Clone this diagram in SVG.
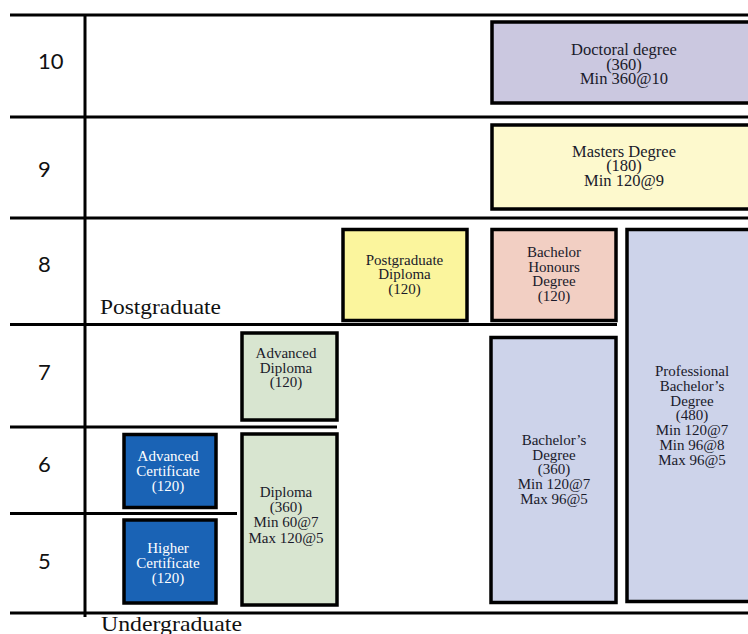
<svg xmlns="http://www.w3.org/2000/svg" width="748" height="634" viewBox="0 0 748 634">
<style>
.grid line{stroke:#000;stroke-width:3}
.box{stroke:#000;stroke-width:3.5}
.t{font-family:"Liberation Serif","Times New Roman",serif;font-size:15px;fill:#1a1a2a;text-anchor:middle}
.big{font-size:16.5px}
.w{fill:#fff}
.lvl{font-family:Lato,"Liberation Sans",sans-serif;font-size:22px;fill:#111}
.lab{font-family:"Liberation Serif","Times New Roman",serif;font-size:21px;fill:#111}
</style>
<rect width="748" height="634" fill="#fff"/>
<g id="grid" class="grid">
<line x1="10" y1="15" x2="748" y2="15"/>
<line x1="10" y1="117" x2="748" y2="117"/>
<line x1="10" y1="218" x2="748" y2="218"/>
<line x1="10" y1="324.5" x2="617" y2="324.5"/>
<line x1="10" y1="427" x2="337" y2="427"/>
<line x1="10" y1="513.5" x2="237" y2="513.5"/>
<line x1="10" y1="613" x2="748" y2="613"/>
<line x1="85" y1="15" x2="85" y2="617"/>
</g>
<g id="levels" class="lvl">
<text x="38" y="69">10</text>
<text x="38" y="177">9</text>
<text x="38" y="272">8</text>
<text x="38" y="380">7</text>
<text x="38" y="472">6</text>
<text x="38" y="569">5</text>
</g>
<g id="labels" class="lab">
<text x="100" y="314" textLength="121" lengthAdjust="spacingAndGlyphs">Postgraduate</text>
<text x="101" y="631" textLength="141" lengthAdjust="spacingAndGlyphs">Undergraduate</text>
</g>
<g id="doctoral">
<rect class="box" x="492" y="22" width="270" height="81" fill="#cbc8e0"/>
<text class="t big" x="624" y="55">Doctoral degree</text>
<text class="t big" x="624" y="69.5">(360)</text>
<text class="t big" x="624" y="84">Min 360@10</text>
</g>
<g id="masters">
<rect class="box" x="492" y="125" width="270" height="84" fill="#fdf9cd"/>
<text class="t big" x="624" y="156.5">Masters Degree</text>
<text class="t big" x="624" y="171">(180)</text>
<text class="t big" x="624" y="185.5">Min 120@9</text>
</g>
<g id="pgdip">
<rect class="box" x="343" y="229.5" width="124" height="91" fill="#fbf59d"/>
<text class="t" x="404.5" y="265">Postgraduate</text>
<text class="t" x="404.5" y="279">Diploma</text>
<text class="t" x="404.5" y="294">(120)</text>
</g>
<g id="honours">
<rect class="box" x="492" y="229.5" width="124" height="91" fill="#f2cfc3"/>
<text class="t" x="554" y="257">Bachelor</text>
<text class="t" x="554" y="271.5">Honours</text>
<text class="t" x="554" y="286">Degree</text>
<text class="t" x="554" y="300.5">(120)</text>
</g>
<g id="professional">
<rect class="box" x="627" y="229.5" width="135" height="372" fill="#cdd3ea"/>
<text class="t" x="692" y="376">Professional</text>
<text class="t" x="692" y="391">Bachelor’s</text>
<text class="t" x="692" y="405.5">Degree</text>
<text class="t" x="692" y="420">(480)</text>
<text class="t" x="692" y="435">Min 120@7</text>
<text class="t" x="692" y="450">Min 96@8</text>
<text class="t" x="692" y="465">Max 96@5</text>
</g>
<g id="bachelors">
<rect class="box" x="491" y="337.5" width="125" height="265" fill="#cdd3ea"/>
<text class="t" x="554" y="445">Bachelor’s</text>
<text class="t" x="554" y="459.5">Degree</text>
<text class="t" x="554" y="474">(360)</text>
<text class="t" x="554" y="489">Min 120@7</text>
<text class="t" x="554" y="504">Max 96@5</text>
</g>
<g id="advdiploma">
<rect class="box" x="242" y="333" width="95" height="87" fill="#d8e5d0"/>
<text class="t" x="286" y="358">Advanced</text>
<text class="t" x="286" y="372.5">Diploma</text>
<text class="t" x="286" y="387">(120)</text>
</g>
<g id="diploma">
<rect class="box" x="242" y="434" width="95" height="171" fill="#d8e5d0"/>
<text class="t" x="286" y="497">Diploma</text>
<text class="t" x="286" y="512">(360)</text>
<text class="t" x="286" y="527">Min 60@7</text>
<text class="t" x="286" y="542.5">Max 120@5</text>
</g>
<g id="advcert">
<rect class="box" x="124" y="434.5" width="92" height="73" fill="#1a63b5"/>
<text class="t w" x="168" y="461">Advanced</text>
<text class="t w" x="168" y="476">Certificate</text>
<text class="t w" x="168" y="491">(120)</text>
</g>
<g id="highercert">
<rect class="box" x="124" y="520" width="92" height="83" fill="#1a63b5"/>
<text class="t w" x="168" y="553">Higher</text>
<text class="t w" x="168" y="568">Certificate</text>
<text class="t w" x="168" y="583">(120)</text>
</g>
</svg>
